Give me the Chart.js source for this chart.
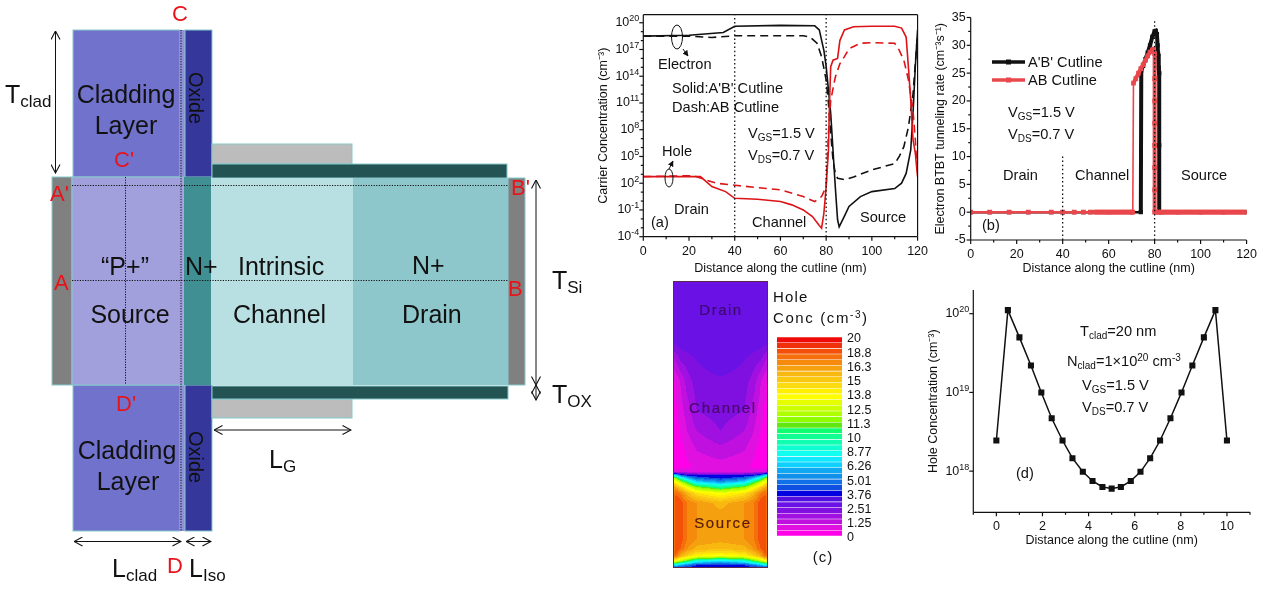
<!DOCTYPE html>
<html>
<head>
<meta charset="utf-8">
<style>
  html, body { margin: 0; padding: 0; background: #fff; width: 1262px; height: 590px; overflow: hidden; }
  canvas { position: absolute; }
  svg { position: absolute; left: 0; top: 0; pointer-events: none; }
  svg text { font-family: "Liberation Sans", Arial, sans-serif; fill: #111; }
  .block { font-size: 25px; }
  .red { font-size: 22px; fill: #e8141c; }
  .note { font-size: 14.6px; }
  .dim { font-size: 25px; }
</style>
<script src="https://cdn.jsdelivr.net/npm/chart.js@4/dist/chart.umd.js"></script>
</head>
<body>
<canvas id="chartA" width="343" height="280" style="left:592px;top:5px"></canvas>
<canvas id="chartB" width="332" height="280" style="left:932px;top:5px"></canvas>
<canvas id="chartD" width="332" height="268" style="left:925px;top:285px"></canvas>
<canvas id="contour" width="95" height="287" style="left:673px;top:281px"></canvas>
<canvas id="colorbar" width="102" height="215" style="left:770px;top:330px"></canvas>

<svg width="1262" height="590" viewBox="0 0 1262 590">
  <defs>
    <marker id="head" viewBox="0 0 10 10" refX="9.5" refY="5" markerWidth="10" markerHeight="10" markerUnits="userSpaceOnUse" orient="auto-start-reverse">
      <path d="M1 0.5 L9.5 5 L1 9.5" fill="none" stroke="#111" stroke-width="1.1"/>
    </marker>
    <marker id="solidHead" viewBox="0 0 10 10" refX="9" refY="5" markerWidth="6" markerHeight="6" markerUnits="userSpaceOnUse" orient="auto">
      <path d="M0 0 L10 5 L0 10 Z" fill="#111"/>
    </marker>
  </defs>

  <!-- device schematic -->
  <g stroke="#86c9cc" stroke-width="1">
    <rect x="73" y="30" width="107" height="147" fill="#7172cc"/>
    <rect x="180" y="30" width="5" height="147" fill="#8f90d8" stroke="none"/>
    <rect x="185" y="30" width="27" height="147" fill="#35379b"/>
    <rect x="73" y="385" width="107" height="146" fill="#7172cc"/>
    <rect x="180" y="385" width="5" height="146" fill="#8f90d8" stroke="none"/>
    <rect x="185" y="385" width="27" height="146" fill="#35379b"/>
    <rect x="212" y="144" width="140" height="20" fill="#bcbcbc"/>
    <rect x="212" y="399" width="140" height="19" fill="#bcbcbc"/>
    <rect x="212" y="164" width="295" height="14" fill="#235353"/>
    <rect x="212" y="386" width="296" height="13" fill="#235353"/>
    <rect x="52" y="177" width="20" height="208" fill="#808080"/>
    <rect x="72" y="177" width="112" height="208" fill="#a2a0dc"/>
    <rect x="184" y="177" width="27" height="208" fill="#3f8f93" stroke="none"/>
    <rect x="211" y="178" width="142" height="207" fill="#b8dfe2" stroke="none"/>
    <rect x="353" y="178" width="155" height="207" fill="#8ec7cb" stroke="none"/>
    <rect x="508" y="178" width="17" height="207" fill="#808080"/>
  </g>
  <g stroke="#111" stroke-width="1" stroke-dasharray="1.2 1.4" fill="none">
    <line x1="72" y1="185.5" x2="508" y2="185.5"/>
    <line x1="72" y1="280.5" x2="508" y2="280.5"/>
    <line x1="125.5" y1="177" x2="125.5" y2="385"/>
    <line x1="181" y1="30" x2="181" y2="531"/>
  </g>
  <g stroke="#111" stroke-width="1" fill="none">
    <line x1="55.5" y1="31" x2="55.5" y2="173" marker-start="url(#head)" marker-end="url(#head)"/>
    <line x1="536" y1="180" x2="536" y2="385" marker-start="url(#head)" marker-end="url(#head)"/>
    <line x1="536" y1="385" x2="536" y2="400" marker-start="url(#head)" marker-end="url(#head)"/>
    <line x1="214" y1="430" x2="351" y2="430" marker-start="url(#head)" marker-end="url(#head)"/>
    <line x1="74" y1="541.5" x2="181" y2="541.5" marker-start="url(#head)" marker-end="url(#head)"/>
    <line x1="186" y1="541.5" x2="211" y2="541.5" marker-start="url(#head)" marker-end="url(#head)"/>
  </g>
  <text class="block" x="126" y="103" text-anchor="middle">Cladding</text>
  <text class="block" x="126" y="134" text-anchor="middle">Layer</text>
  <text class="block" x="127" y="459" text-anchor="middle">Cladding</text>
  <text class="block" x="128" y="490" text-anchor="middle">Layer</text>
  <text font-size="20" transform="translate(189,98) rotate(90)" text-anchor="middle">Oxide</text>
  <text font-size="20" transform="translate(189,457) rotate(90)" text-anchor="middle">Oxide</text>
  <text class="block" x="125" y="275" text-anchor="middle">“P+”</text>
  <text class="block" x="130" y="323" text-anchor="middle">Source</text>
  <text class="block" x="185" y="275">N+</text>
  <text class="block" x="238" y="275">Intrinsic</text>
  <text class="block" x="233" y="323">Channel</text>
  <text class="block" x="412" y="274">N+</text>
  <text class="block" x="402" y="323">Drain</text>
  <text class="red" x="172" y="21">C</text>
  <text class="red" x="114" y="167">C'</text>
  <text class="red" x="50" y="201">A'</text>
  <text class="red" x="54" y="290">A</text>
  <text class="red" x="511" y="195">B'</text>
  <text class="red" x="508" y="296">B</text>
  <text class="red" x="116" y="411">D'</text>
  <text class="red" x="167" y="573">D</text>
  <text class="dim" x="5" y="103">T<tspan font-size="17" dy="4">clad</tspan></text>
  <text class="dim" x="552" y="289">T<tspan font-size="17" dy="4">Si</tspan></text>
  <text class="dim" x="552" y="403">T<tspan font-size="17" dy="4">OX</tspan></text>
  <text class="dim" x="269" y="468">L<tspan font-size="17" dy="4">G</tspan></text>
  <text class="dim" x="112" y="577">L<tspan font-size="17" dy="4">clad</tspan></text>
  <text class="dim" x="189" y="577">L<tspan font-size="17" dy="4">Iso</tspan></text>

  <!-- panel (a) notes -->
  <ellipse cx="677" cy="37" rx="5.5" ry="12" fill="none" stroke="#111"/>
  <line x1="683" y1="49" x2="688" y2="56" stroke="#111" marker-end="url(#solidHead)"/>
  <ellipse cx="669" cy="178" rx="4" ry="9" fill="none" stroke="#111"/>
  <line x1="669" y1="169" x2="673" y2="161" stroke="#111" marker-end="url(#solidHead)"/>
  <text class="note" x="658" y="69">Electron</text>
  <text class="note" x="672" y="93">Solid:A'B' Cutline</text>
  <text class="note" x="672" y="112">Dash:AB Cutline</text>
  <text class="note" x="748" y="138">V<tspan font-size="10" dy="3">GS</tspan><tspan dy="-3">=1.5 V</tspan></text>
  <text class="note" x="748" y="160">V<tspan font-size="10" dy="3">DS</tspan><tspan dy="-3">=0.7 V</tspan></text>
  <text class="note" x="662" y="156">Hole</text>
  <text class="note" x="674" y="214">Drain</text>
  <text class="note" x="651" y="227">(a)</text>
  <text class="note" x="752" y="227">Channel</text>
  <text class="note" x="860" y="222">Source</text>

  <!-- panel (b) notes -->
  <line x1="992" y1="62" x2="1025" y2="62" stroke="#111" stroke-width="3.5"/>
  <rect x="1006" y="59.5" width="5" height="5" fill="#111"/>
  <line x1="992" y1="80" x2="1025" y2="80" stroke="#e8474c" stroke-width="3.5"/>
  <rect x="1006" y="77.5" width="5" height="5" fill="#e8474c"/>
  <text class="note" x="1028" y="67">A'B' Cutline</text>
  <text class="note" x="1028" y="85">AB Cutline</text>
  <text class="note" x="1008" y="117">V<tspan font-size="10" dy="3">GS</tspan><tspan dy="-3">=1.5 V</tspan></text>
  <text class="note" x="1008" y="139">V<tspan font-size="10" dy="3">DS</tspan><tspan dy="-3">=0.7 V</tspan></text>
  <text class="note" x="1003" y="180">Drain</text>
  <text class="note" x="1075" y="180">Channel</text>
  <text class="note" x="1181" y="180">Source</text>
  <text class="note" x="982" y="230">(b)</text>

  <!-- panel (c) notes -->
  <text font-size="15" x="773" y="302" style="letter-spacing:1.2px">Hole</text>
  <text font-size="15" x="773" y="323" style="letter-spacing:1.6px">Conc (cm<tspan font-size="10" dy="-5">-3</tspan><tspan dy="5">)</tspan></text>
  <text font-size="15" x="823" y="562" text-anchor="middle" style="letter-spacing:1px">(c)</text>
  <text font-size="15" x="721" y="315" text-anchor="middle" style="fill:#3c0a6e;stroke:#3c0a6e;stroke-width:.2;letter-spacing:1.5px">Drain</text>
  <text font-size="15" x="723" y="413" text-anchor="middle" style="fill:#48086e;stroke:#48086e;stroke-width:.2;letter-spacing:1.7px">Channel</text>
  <text font-size="15" x="723" y="528" text-anchor="middle" style="fill:#5a1a0a;stroke:#5a1a0a;stroke-width:.2;letter-spacing:1.7px">Source</text>

  <!-- panel (d) notes -->
  <text class="note" x="1080" y="336">T<tspan font-size="10" dy="3">clad</tspan><tspan dy="-3">=20 nm</tspan></text>
  <text class="note" x="1067" y="366">N<tspan font-size="10" dy="3">clad</tspan><tspan dy="-3">=1×10</tspan><tspan font-size="10" dy="-5">20</tspan><tspan dy="5"> cm</tspan><tspan font-size="10" dy="-5">-3</tspan></text>
  <text class="note" x="1082" y="390">V<tspan font-size="10" dy="3">GS</tspan><tspan dy="-3">=1.5 V</tspan></text>
  <text class="note" x="1082" y="412">V<tspan font-size="10" dy="3">DS</tspan><tspan dy="-3">=0.7 V</tspan></text>
  <text class="note" x="1016" y="478">(d)</text>
</svg>

<script>
// Panel (a): carrier concentration, y values are log10(cm-3)
const electronSolidX = [0, 20, 35, 40, 60, 75, 77, 79, 80, 81, 82, 83, 84, 85, 85.7, 88, 90, 95, 100, 110, 113, 115, 117, 118, 119, 120];
const electronSolidY = [18.5, 18.6, 18.9, 19.6, 19.7, 19.66, 19.2, 16.9, 15.1, 12.5, 9.8, 5.7, 1.6, -2.1, -2.9, -1.7, -0.6, 0.5, 1.06, 1.4, 2, 3.1, 5.7, 9.8, 15, 19.2];
const electronDashX = [0, 20, 30, 40, 70, 73, 76, 78, 80, 81, 82, 83, 84, 85, 88, 92, 100, 110, 112, 114, 116, 118, 120];
const electronDashY = [18.5, 18.5, 18.35, 18.54, 18.54, 18.4, 17.7, 16.2, 13.6, 11, 7.6, 4.6, 3.1, 2.55, 2.4, 2.7, 3.5, 4.2, 5, 6.1, 8.3, 12, 18.8];
const holeSolidX = [0, 25, 30, 36, 40, 50, 60, 65, 70, 74, 77, 78, 79, 80, 81, 81.5, 82, 83, 85, 86, 88, 92, 100, 110, 113, 115, 116, 117, 118, 119, 120];
const holeSolidY = [2.74, 2.74, 1.62, 1.06, 0.31, 0.2, -0.06, -0.43, -1, -1.74, -2.75, -3.05, -1.4, 1.6, 5.7, 11.3, 15.07, 15.8, 16, 18, 19.2, 19.55, 19.6, 19.6, 19.4, 18.4, 15, 11.3, 6.9, 5.4, 2.74];
const holeDashX = [0, 22, 27, 32, 40, 60, 70, 75, 78, 80, 81, 82, 84, 86, 88, 90, 95, 100, 110, 112, 114, 116, 118, 119, 120];
const holeDashY = [2.74, 2.85, 2.4, 2, 1.77, 1.25, 0.5, -0.06, 0.5, 1.6, 7.6, 11.3, 13.9, 15.4, 16.2, 17.1, 17.7, 17.76, 17.7, 16.9, 15.8, 13.6, 10.2, 6.9, 2.74];
const carrierTicks = [-4, -1, 2, 5, 8, 11, 14, 17, 20];
const carrierMinor = [-3, -2, 0, 1, 3, 4, 6, 7, 9, 10, 12, 13, 15, 16, 18, 19];

// Panel (b): tunneling rate
const rateSolidX = [0, 8.3, 16.7, 25, 35, 40, 45, 49, 52, 60, 70, 74, 74.2, 75, 76, 77, 78, 79, 80, 80.5, 81, 81.3, 81.5, 81.8, 82, 82, 82, 83, 90, 100, 110, 120];
const rateSolidY = [0, 0, 0, 0, 0, 0, 0, 0, 0, 0, 0, 0, 25.5, 26.3, 27.5, 28.7, 30, 31.5, 32.5, 32.6, 32, 30, 28.5, 26, 25, 12, 0, 0, 0, 0, 0, 0];
const rateDashX = [0, 8.3, 16.7, 25, 35, 40, 45, 49, 52, 54, 55, 56, 57, 58, 59, 60, 61, 62, 63, 64, 65, 66, 67, 68, 69, 70, 70.5, 70.8, 71.8, 73, 74, 75, 76, 77, 78, 79, 79.5, 80, 80, 80, 80, 80, 80, 80, 80, 81, 82, 83, 84, 85, 86, 87, 88, 89, 90, 91, 92, 93, 94, 95, 96, 97, 98, 99, 100, 101, 102, 103, 104, 105, 106, 107, 108, 109, 110, 111, 112, 113, 114, 115, 116, 117, 118, 119, 120];
const rateDashY = [0, 0, 0, 0, 0, 0, 0, 0, 0, 0, 0, 0, 0, 0, 0, 0, 0, 0, 0, 0, 0, 0, 0, 0, 0, 0, 0, 23.2, 24, 25, 25.8, 26.5, 27.3, 28.1, 28.8, 29.2, 29.3, 28.5, 24, 20, 16, 12, 8, 4, 0, 0, 0, 0, 0, 0, 0, 0, 0, 0, 0, 0, 0, 0, 0, 0, 0, 0, 0, 0, 0, 0, 0, 0, 0, 0, 0, 0, 0, 0, 0, 0, 0, 0, 0, 0, 0, 0, 0, 0, 0];

// Panel (d): hole concentration along C'D'
const holeCutX = [0, 0.5, 1, 1.5, 1.95, 2.4, 2.87, 3.3, 3.75, 4.17, 4.6, 5, 5.4, 5.83, 6.25, 6.67, 7.1, 7.55, 8.03, 8.5, 9, 9.5, 10];
const holeCutY = [2.45e18, 1.11e20, 5e19, 2.2e19, 1e19, 4.7e18, 2.45e18, 1.46e18, 9.8e17, 7.5e17, 6.3e17, 6e17, 6.3e17, 7.5e17, 9.8e17, 1.46e18, 2.45e18, 4.7e18, 1e19, 2.2e19, 5e19, 1.11e20, 2.45e18];
const holeCutTicks = [18, 19, 20];
const holeCutXTicks = [0, 2, 4, 6, 8, 10];

// Panel (c): colour legend and hole concentration levels (0 = magenta band, 34 = red band)
const barTicks = ['20', '18.8', '16.3', '15', '13.8', '12.5', '11.3', '10', '8.77', '6.26', '5.01', '3.76', '2.51', '1.25', '0'];
const bandColors = ['#f00a0a', '#f0300a', '#f5500a', '#f5700a', '#f58a0c', '#f5a00e', '#f8b810', '#fac810', '#fcdc10', '#fff000',
  '#ffff00', '#e6ff00', '#ccff00', '#b0ff00', '#90ff00', '#60e810', '#10ff70', '#10ff90', '#10ffb0', '#10ffd0',
  '#10fff0', '#10e8ff', '#10d0ff', '#10a8f0', '#1090e8', '#1070e8', '#1050e0', '#0000e0', '#5010e0', '#6a12e6',
  '#8010e0', '#a010e0', '#c010e0', '#e010e0', '#ff00e8'];
const fieldCols = [0, 0.06, 0.15, 0.3, 0.5, 1];
const fieldRows = [0, 60, 80, 100, 130, 150, 170, 186, 191, 192, 194, 197, 201, 206, 212, 222, 235, 240, 258, 268, 275, 280, 284, 287];
const fieldLevels = [
  [5.5, 5.5, 5.5, 5.5, 5.5, 5.5],
  [5.5, 5.5, 5.6, 5.7, 5.8, 5.8],
  [2.5, 3, 4, 4.5, 5, 5.7],
  [0.8, 1.2, 2, 3.5, 4.5, 4.8],
  [0.5, 0.8, 1.5, 2.5, 4, 4.5],
  [0.5, 0.6, 1, 2, 3, 4],
  [0.3, 0.4, 0.6, 1.2, 2, 2.6],
  [0.3, 0.3, 0.5, 0.8, 1.2, 1.5],
  [2, 2, 2, 2, 2, 2],
  [6, 6, 5, 4, 3, 2],
  [14, 12, 9, 7, 7, 7],
  [22, 20, 16, 12, 9, 7.5],
  [26, 25, 22, 18, 13, 11],
  [29, 29, 27, 24, 20, 17],
  [30, 32, 31, 28.5, 26, 24],
  [31, 32.8, 32.8, 31, 30, 28.5],
  [31, 32.8, 32.8, 31, 30, 29.5],
  [31, 32.8, 32.8, 31, 30, 29.8],
  [31, 32.8, 32.8, 31, 30, 29.5],
  [31, 32.8, 32, 30, 28.5, 28],
  [30, 32, 29, 27, 25, 24],
  [25, 24, 22, 19, 15, 13],
  [14, 14, 12, 10, 8, 7.5],
  [8, 7, 7, 7, 7, 7]
];

const INK = '#111';
const FONT = { family: '"Liberation Sans", Arial, sans-serif', size: 12.5 };

Chart.defaults.font.family = FONT.family;
Chart.defaults.color = INK;

function points(xs, ys) {
  return xs.map((x, i) => ({ x, y: ys[i] }));
}

function logPoints(xs, exps) {
  return xs.map((x, i) => ({ x, y: Math.pow(10, exps[i]) }));
}

// Draw axis lines and outward ticks, chart.js ticks have no minor length
// Also writes the 10^n labels, a canvas tick label can't do a raised exponent
const axisFrame = {
  id: 'axisFrame',
  afterDraw(chart, args, opts) {
    const { ctx, chartArea: a, scales } = chart;
    ctx.save();
    ctx.strokeStyle = INK;
    ctx.fillStyle = INK;
    ctx.lineWidth = 1.2;
    const seg = (x1, y1, x2, y2) => {
      ctx.beginPath();
      ctx.moveTo(x1, y1);
      ctx.lineTo(x2, y2);
      ctx.stroke();
    };
    seg(a.left, a.top, a.left, a.bottom);
    seg(a.left, a.bottom, a.right, a.bottom);
    if (opts.frame) {
      seg(a.left, a.top, a.right, a.top);
      seg(a.right, a.top, a.right, a.bottom);
    }
    scales.x.ticks.forEach(t => {
      const px = scales.x.getPixelForValue(t.value);
      seg(px, a.bottom, px, a.bottom + 4);
    });
    (opts.minorX || []).forEach(v => {
      const px = scales.x.getPixelForValue(v);
      seg(px, a.bottom, px, a.bottom + 2.5);
    });
    scales.y.ticks.forEach(t => {
      const py = scales.y.getPixelForValue(t.value);
      seg(a.left, py, a.left - 4, py);
      if (opts.powers) {
        const exp = String(Math.round(Math.log10(t.value)));
        ctx.textAlign = 'right';
        ctx.textBaseline = 'middle';
        ctx.font = '9px ' + FONT.family;
        const expWidth = ctx.measureText(exp).width;
        ctx.fillText(exp, a.left - 4, py - 4);
        ctx.font = FONT.size + 'px ' + FONT.family;
        ctx.fillText('10', a.left - 4 - expWidth, py);
      }
    });
    (opts.minorY || []).forEach(v => {
      const py = scales.y.getPixelForValue(v);
      seg(a.left, py, a.left - 2.5, py);
    });
    ctx.restore();
  }
};

// Common options for one plot, the box numbers pin the plot area on the page
function plotOptions(box, x, y, frame) {
  return {
    responsive: false,
    animation: false,
    layout: { padding: { top: box.top, right: box.right, left: 0, bottom: 0 } },
    plugins: { legend: { display: false }, tooltip: { enabled: false }, axisFrame: frame },
    scales: {
      x: Object.assign({
        type: 'linear',
        grid: { display: false, drawTicks: false },
        border: { display: false },
        afterFit: s => { s.height = box.bottom; },
        title: { display: true, text: 'Distance along the cutline (nm)', font: FONT, padding: { top: 0, bottom: box.titleBottom } }
      }, x),
      y: Object.assign({
        grid: { display: false, drawTicks: false },
        border: { display: false },
        afterFit: s => { s.width = box.left; }
      }, y)
    }
  };
}

function yTitle(text, pad) {
  return { display: true, text, font: FONT, padding: { top: pad, bottom: 0 } };
}

function dotted(xs, ys, isLog) {
  return {
    data: isLog ? logPoints(xs, ys) : points(xs, ys),
    borderColor: INK,
    borderWidth: 1.3,
    borderDash: [1.5, 2.6],
    pointRadius: 0,
    order: 0
  };
}

// Baseline part of the rate curves is thinner than the peak
function rateWidth(c) {
  if (c.p1.parsed.x === 70.8) return 1.6;
  return c.p0.parsed.y === 0 && c.p1.parsed.y === 0 ? 2.5 : 4;
}

new Chart(document.getElementById('chartA'), {
  type: 'line',
  data: {
    datasets: [
      dotted([40, 40], [-4, 20.9], true),
      dotted([80, 80], [-4, 20.9], true),
      { data: logPoints(holeSolidX, holeSolidY), borderColor: '#dc1418', borderWidth: 1.6, pointRadius: 0, order: 1 },
      { data: logPoints(holeDashX, holeDashY), borderColor: '#dc1418', borderWidth: 1.6, borderDash: [8, 5], pointRadius: 0, order: 2 },
      { data: logPoints(electronSolidX, electronSolidY), borderColor: INK, borderWidth: 1.6, pointRadius: 0, order: 3 },
      { data: logPoints(electronDashX, electronDashY), borderColor: INK, borderWidth: 1.6, borderDash: [8, 5], pointRadius: 0, order: 4 }
    ]
  },
  options: plotOptions(
    { left: 51.3, right: 15.7, top: 9.7, bottom: 48.3, titleBottom: 9 },
    { min: 0, max: 120, ticks: { stepSize: 20, font: FONT, padding: 7, maxRotation: 0 } },
    {
      type: 'logarithmic',
      min: 1e-4,
      max: 8e20,
      title: yTitle('Carrier Concentration (cm⁻³)', 3.8),
      afterBuildTicks: s => { s.ticks = carrierTicks.map(e => ({ value: Math.pow(10, e) })); },
      ticks: { display: false }
    },
    { frame: true, powers: true, minorX: [10, 30, 50, 70, 90, 110], minorY: carrierMinor.map(e => Math.pow(10, e)) }
  ),
  plugins: [axisFrame]
});

new Chart(document.getElementById('chartB'), {
  type: 'line',
  data: {
    datasets: [
      dotted([40, 40], [-5, 10]),
      dotted([80, 80], [-5, 34.5]),
      {
        data: points(rateDashX, rateDashY),
        borderColor: '#e8474c',
        backgroundColor: '#e8474c',
        pointStyle: 'rect',
        pointRadius: 3.3,
        pointBorderWidth: 0,
        segment: { borderWidth: rateWidth },
        order: 1
      },
      {
        data: points(rateSolidX, rateSolidY),
        borderColor: INK,
        backgroundColor: INK,
        pointStyle: 'rect',
        pointRadius: 3,
        pointBorderWidth: 0,
        segment: { borderWidth: rateWidth },
        order: 2
      }
    ]
  },
  options: plotOptions(
    { left: 38.7, right: 16.7, top: 12.3, bottom: 45, titleBottom: 9 },
    { min: 0, max: 120, ticks: { stepSize: 20, font: FONT, padding: 7, maxRotation: 0 } },
    {
      type: 'linear',
      min: -5,
      max: 35,
      title: yTitle('Electron BTBT tunneling rate (cm⁻³s⁻¹)', 0.8),
      ticks: { stepSize: 5, font: FONT, padding: 5 }
    },
    { minorX: [10, 30, 50, 70, 90, 110], minorY: [-2.5, 2.5, 7.5, 12.5, 17.5, 22.5, 27.5, 32.5] }
  ),
  plugins: [axisFrame]
});

new Chart(document.getElementById('chartD'), {
  type: 'line',
  data: {
    datasets: [
      { data: points(holeCutX, holeCutY), borderColor: INK, backgroundColor: INK, borderWidth: 1.5, pointStyle: 'rect', pointRadius: 4.3, pointBorderWidth: 0 }
    ]
  },
  options: plotOptions(
    { left: 48.3, right: 7, top: 5, bottom: 40.7, titleBottom: 4.5 },
    {
      min: -1,
      max: 11,
      afterBuildTicks: s => { s.ticks = holeCutXTicks.map(v => ({ value: v })); },
      ticks: { font: FONT, padding: 7, maxRotation: 0, autoSkip: false, callback: v => String(v) }
    },
    {
      type: 'logarithmic',
      min: 3e17,
      max: 2e20,
      title: yTitle('Hole Concentration (cm⁻³)', 0.8),
      afterBuildTicks: s => { s.ticks = holeCutTicks.map(e => ({ value: Math.pow(10, e) })); },
      ticks: { display: false }
    },
    { powers: true, minorX: [-1, 1, 3, 5, 7, 9, 11] }
  ),
  plugins: [axisFrame]
});

// Band index for a spot in the hole map, bilinear between the read-off levels
function levelAt(u, s) {
  let r = fieldRows.findIndex(v => v > s);
  if (r < 1) r = fieldRows.length - 1;
  let c = fieldCols.findIndex(v => v > u);
  if (c < 1) c = fieldCols.length - 1;
  const tr = (s - fieldRows[r - 1]) / (fieldRows[r] - fieldRows[r - 1]);
  const tc = (u - fieldCols[c - 1]) / (fieldCols[c] - fieldCols[c - 1]);
  const top = fieldLevels[r - 1][c - 1] * (1 - tc) + fieldLevels[r - 1][c] * tc;
  const bot = fieldLevels[r][c - 1] * (1 - tc) + fieldLevels[r][c] * tc;
  return top * (1 - tr) + bot * tr;
}

const holeMap = {
  id: 'holeMap',
  beforeDatasetsDraw(chart) {
    const { ctx, chartArea: a, scales } = chart;
    for (let py = a.top; py < a.bottom; py++) {
      const s = scales.y.getValueForPixel(py + 0.5);
      for (let px = a.left; px < a.right; px++) {
        // x runs -1..1 across the panel, fieldCols counts from the wall (0) to the middle (1)
        const u = 1 - Math.abs(scales.x.getValueForPixel(px + 0.5));
        const band = bandColors.length - 1 - Math.floor(levelAt(u, s));
        ctx.fillStyle = bandColors[Math.max(0, Math.min(bandColors.length - 1, band))];
        ctx.fillRect(px, py, 1, 1);
      }
    }
    ctx.strokeStyle = '#5a2a4a';
    ctx.lineWidth = 1;
    ctx.strokeRect(a.left + 0.5, a.top + 0.5, a.right - a.left - 1, a.bottom - a.top - 1);
  }
};

new Chart(document.getElementById('contour'), {
  type: 'scatter',
  data: { datasets: [{ data: [] }] },
  options: {
    responsive: false,
    animation: false,
    plugins: { legend: { display: false }, tooltip: { enabled: false } },
    scales: {
      x: { type: 'linear', min: -1, max: 1, display: false },
      y: { type: 'linear', min: 0, max: 287, reverse: true, display: false }
    }
  },
  plugins: [holeMap]
});

// Legend labels sit evenly on their own hidden scale, they don't line up with the bands
const barLabels = {
  id: 'barLabels',
  afterDraw(chart) {
    const { ctx, chartArea: a, scales } = chart;
    ctx.save();
    ctx.fillStyle = INK;
    ctx.font = FONT.size + 'px ' + FONT.family;
    ctx.textAlign = 'left';
    ctx.textBaseline = 'middle';
    barTicks.forEach((label, i) => {
      ctx.fillText(label, a.right + 5, scales.y2.getPixelForValue(14 - i) + 2);
    });
    ctx.restore();
  }
};

new Chart(document.getElementById('colorbar'), {
  type: 'bar',
  data: {
    labels: bandColors.map((c, i) => i),
    datasets: [{
      data: bandColors.map(() => 1),
      backgroundColor: bandColors,
      categoryPercentage: 1,
      barPercentage: 0.9,
      yAxisID: 'y'
    }]
  },
  options: {
    indexAxis: 'y',
    responsive: false,
    animation: false,
    layout: { padding: { top: 7, left: 7, bottom: 9, right: 30 } },
    plugins: { legend: { display: false }, tooltip: { enabled: false } },
    scales: {
      x: { min: 0, max: 1, display: false },
      y: { display: false },
      y2: { type: 'linear', min: 0, max: 14, offset: false, display: false }
    }
  },
  plugins: [barLabels]
});
</script>
</body>
</html>
